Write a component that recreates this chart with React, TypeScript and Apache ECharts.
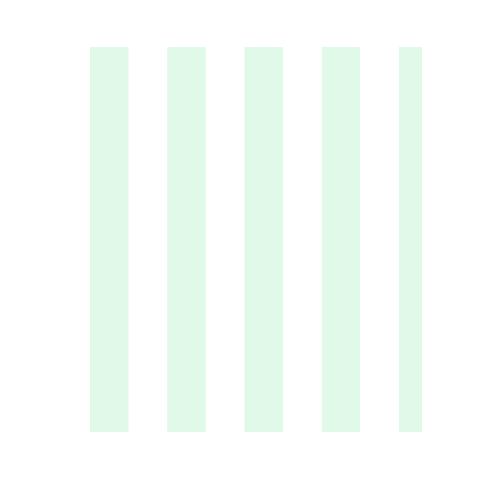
import React, { useEffect, useRef } from "react";
import * as echarts from "echarts";

const xRange = [0, 8.6];
const yRange = [0, 10];
const xInterval = 1;
const areaColors = ["#e1f9e9", "#ffffff"];

export default function App() {
  const ref = useRef<HTMLDivElement>(null);
  useEffect(() => {
    if (!ref.current) return;
    const chart = echarts.init(ref.current, undefined, { renderer: "svg" });
    chart.setOption({
      animation: false,
      backgroundColor: "#ffffff",
      grid: { left: 90, right: 58, top: 47, bottom: 48, containLabel: false },
      xAxis: {
        type: "value",
        min: xRange[0],
        max: xRange[1],
        interval: xInterval,
        axisLine: { show: false },
        axisTick: { show: false },
        axisLabel: { show: false },
        splitLine: { show: false },
        splitArea: { show: true, areaStyle: { color: areaColors } },
      },
      yAxis: {
        type: "value",
        min: yRange[0],
        max: yRange[1],
        axisLine: { show: false },
        axisTick: { show: false },
        axisLabel: { show: false },
        splitLine: { show: false },
      },
      series: [],
    });
    return () => chart.dispose();
  }, []);
  return (
    <div
      ref={ref}
      style={{ position: "fixed", left: 0, top: 0, width: 480, height: 480 }}
    />
  );
}
